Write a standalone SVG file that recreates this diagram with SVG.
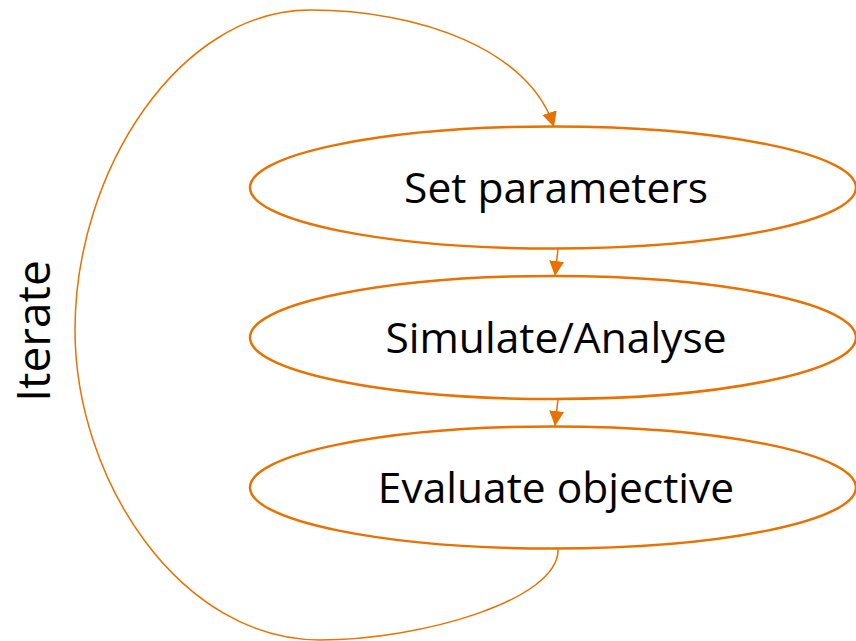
<svg xmlns="http://www.w3.org/2000/svg" width="856" height="641" viewBox="0 0 856 641">
<defs>
<style>
.node{fill:#fff;stroke:#E97100;stroke-width:2.5}
.lbl{font-family:"Open Sans","Noto Sans",sans-serif;font-size:42.5px;fill:#000;text-anchor:middle}
.conn{fill:none;stroke:#E97100;stroke-width:1.5}
</style>
<marker id="ahb" viewBox="0 0 10 10" refX="10" refY="5" markerWidth="15" markerHeight="16" markerUnits="userSpaceOnUse" orient="auto">
<path d="M0,0 L10,5 L0,10 Z" fill="#E97100"/>
</marker>
</defs>
<g id="n1"><ellipse class="node" cx="553" cy="187.5" rx="303" ry="61"/><text class="lbl" x="556" y="203">Set parameters</text></g>
<g id="n2"><ellipse class="node" cx="553" cy="337.5" rx="303" ry="61.5"/><text class="lbl" x="556" y="353">Simulate/Analyse</text></g>
<g id="n3"><ellipse class="node" cx="553" cy="487.5" rx="303" ry="61"/><text class="lbl" x="556" y="503">Evaluate objective</text></g>
<g id="connectors">
<path class="conn" d="M558,249 L555,276" marker-end="url(#ahb)"/>
<path class="conn" d="M558,399 L555,426" marker-end="url(#ahb)"/>
<path class="conn" d="M558,549 C560,600 420,640 320,640 C180,640 75,480 75,330 C75,170 180,10 310,10 C420,10 530,50 554,127" marker-end="url(#ahb)"/>
</g>
<text x="50" y="331" transform="rotate(-90 50 331)" style="font-family:'Open Sans','Noto Sans',sans-serif;font-size:46px;fill:#000;text-anchor:middle">Iterate</text>
</svg>
